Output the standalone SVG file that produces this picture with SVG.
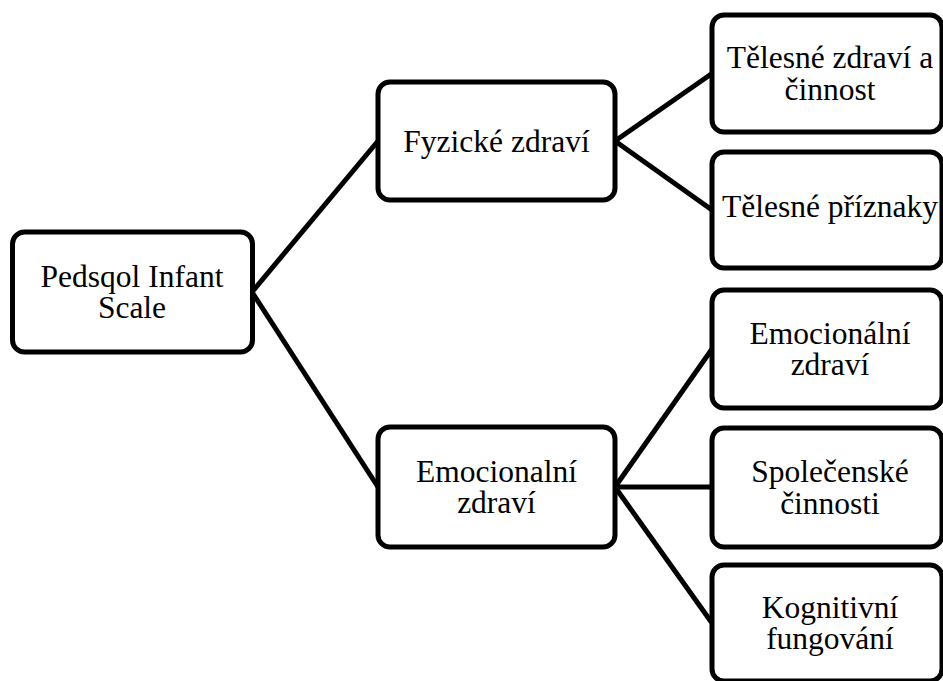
<svg xmlns="http://www.w3.org/2000/svg" width="943" height="681" viewBox="0 0 943 681">
<style>
.box{fill:#fff;stroke:#000;stroke-width:5}
.t{font-family:'Liberation Serif','Times New Roman',serif;font-size:31.5px;fill:#000;text-anchor:middle}
.c{stroke:#000;stroke-width:5;fill:none}
</style>
<rect width="943" height="681" fill="#fff"/>
<g id="connectors">
<line class="c" x1="252" y1="292" x2="378" y2="141"/>
<line class="c" x1="252" y1="292" x2="378" y2="487"/>
<line class="c" x1="615" y1="141" x2="712" y2="73.5"/>
<line class="c" x1="615" y1="141" x2="712" y2="210"/>
<line class="c" x1="615" y1="487" x2="712" y2="349"/>
<line class="c" x1="615" y1="487" x2="712" y2="487"/>
<line class="c" x1="615" y1="487" x2="712" y2="623"/>
</g>
<g id="root">
<rect class="box" x="12.5" y="232" width="240" height="120" rx="12"/>
<text class="t" x="132" y="286.5">Pedsqol Infant</text>
<text class="t" x="132" y="318">Scale</text>
</g>
<g id="fyzicke">
<rect class="box" x="378" y="82" width="237" height="118" rx="12"/>
<text class="t" x="496.5" y="151.5">Fyzické zdraví</text>
</g>
<g id="emocionalni">
<rect class="box" x="378" y="427" width="237" height="120" rx="12"/>
<text class="t" x="496.5" y="481.5">Emocionalní</text>
<text class="t" x="496.5" y="513">zdraví</text>
</g>
<g id="telesne-zdravi">
<rect class="box" x="712" y="15" width="230" height="117" rx="12"/>
<text class="t" x="830" y="68">Tělesné zdraví a</text>
<text class="t" x="830" y="99.5">činnost</text>
</g>
<g id="telesne-priznaky">
<rect class="box" x="712" y="152" width="230" height="116" rx="12"/>
<text class="t" x="830" y="217">Tělesné příznaky</text>
</g>
<g id="emocionalni-zdravi">
<rect class="box" x="712" y="290" width="230" height="118" rx="12"/>
<text class="t" x="830" y="343.5">Emocionální</text>
<text class="t" x="830" y="375">zdraví</text>
</g>
<g id="spolecenske">
<rect class="box" x="712" y="428" width="230" height="119" rx="12"/>
<text class="t" x="830" y="482">Společenské</text>
<text class="t" x="830" y="513.5">činnosti</text>
</g>
<g id="kognitivni">
<rect class="box" x="712" y="565" width="230" height="116" rx="12"/>
<text class="t" x="830" y="617.5">Kognitivní</text>
<text class="t" x="830" y="649">fungování</text>
</g>
</svg>
